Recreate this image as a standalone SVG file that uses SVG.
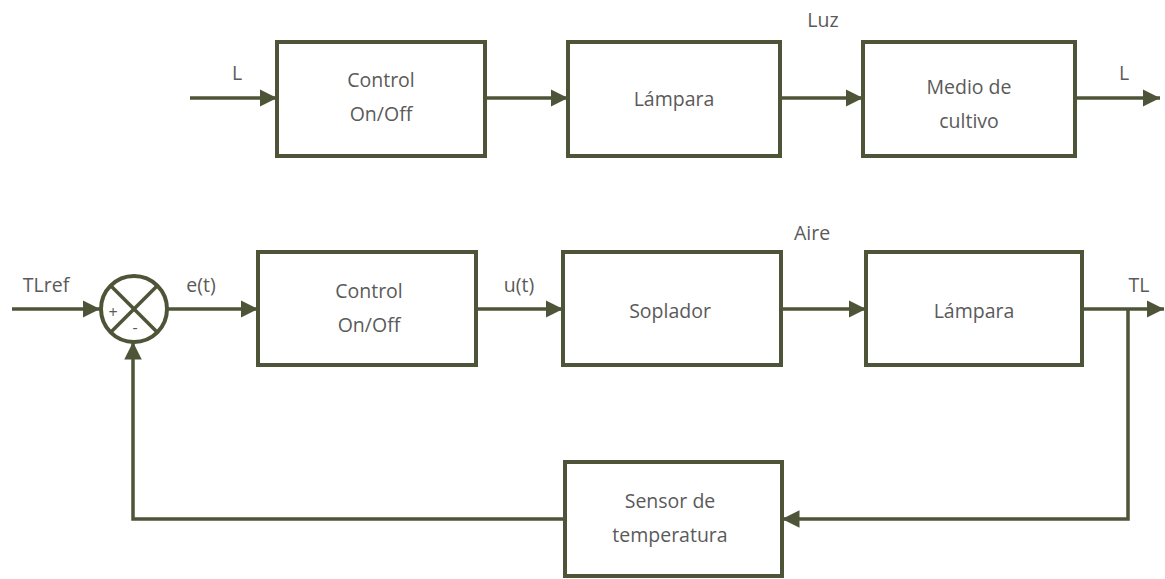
<svg xmlns="http://www.w3.org/2000/svg" width="1165" height="579" viewBox="0 0 1165 579">
<style>
.box{fill:#fff;stroke:#4e5437;stroke-width:4}
.ln{fill:none;stroke:#4e5437;stroke-width:3.5}
.t{font-family:"Open Sans","Liberation Sans",sans-serif;font-size:19.5px;fill:#5a5a5a;text-anchor:middle}
.s{font-family:"Open Sans","Liberation Sans",sans-serif;font-size:16px;fill:#5a5a5a;text-anchor:middle}
</style>
<defs>
<marker id="ah" viewBox="0 0 10 10" refX="10" refY="5" markerWidth="5" markerHeight="5.2" markerUnits="strokeWidth" orient="auto">
<path d="M0,0 L10,5 L0,10 z" fill="#4e5437"/>
</marker>
</defs>
<rect width="1165" height="579" fill="#fff"/>
<g id="connectors">
<line class="ln" x1="190" y1="98" x2="277" y2="98" marker-end="url(#ah)"/>
<line class="ln" x1="485" y1="98" x2="568" y2="98" marker-end="url(#ah)"/>
<line class="ln" x1="780" y1="98" x2="863" y2="98" marker-end="url(#ah)"/>
<line class="ln" x1="1075" y1="98" x2="1160" y2="98" marker-end="url(#ah)"/>
<line class="ln" x1="12" y1="309" x2="100" y2="309" marker-end="url(#ah)"/>
<line class="ln" x1="167" y1="309" x2="258" y2="309" marker-end="url(#ah)"/>
<line class="ln" x1="476" y1="309" x2="563" y2="309" marker-end="url(#ah)"/>
<line class="ln" x1="781" y1="309" x2="866" y2="309" marker-end="url(#ah)"/>
<line class="ln" x1="1082" y1="309" x2="1164" y2="309" marker-end="url(#ah)"/>
<polyline class="ln" points="1128,309 1128,519 782,519" marker-end="url(#ah)"/>
<polyline class="ln" points="565,519 133,519 133,342" marker-end="url(#ah)"/>
<text class="t" x="237" y="80">L</text>
<text class="t" x="823" y="27">Luz</text>
<text class="t" x="1124" y="80">L</text>
<text class="t" x="46" y="292">TLref</text>
<text class="t" x="201" y="292">e(t)</text>
<text class="t" x="519" y="292">u(t)</text>
<text class="t" x="812" y="240">Aire</text>
<text class="t" x="1139" y="292">TL</text>
</g>
<g id="n1"><rect class="box" x="277" y="42" width="208" height="114"/><text class="t" x="381" y="87">Control</text><text class="t" x="381" y="121">On/Off</text></g>
<g id="n2"><rect class="box" x="568" y="42" width="212" height="114"/><text class="t" x="674" y="106">Lámpara</text></g>
<g id="n3"><rect class="box" x="863" y="42" width="212" height="114"/><text class="t" x="969" y="94">Medio de</text><text class="t" x="969" y="128">cultivo</text></g>
<g id="sum">
<circle cx="134" cy="309" r="33" fill="#fff" stroke="#4e5437" stroke-width="4"/>
<line class="ln" x1="111" y1="286" x2="157" y2="332"/>
<line class="ln" x1="157" y1="286" x2="111" y2="332"/>
<text class="s" x="113" y="318">+</text>
<text class="s" x="135" y="333">-</text>
</g>
<g id="n4"><rect class="box" x="258" y="252" width="218" height="113"/><text class="t" x="369" y="298">Control</text><text class="t" x="369" y="332">On/Off</text></g>
<g id="n5"><rect class="box" x="563" y="252" width="218" height="113"/><text class="t" x="670" y="318">Soplador</text></g>
<g id="n6"><rect class="box" x="866" y="252" width="216" height="113"/><text class="t" x="974" y="318">Lámpara</text></g>
<g id="n7"><rect class="box" x="565" y="462" width="217" height="114"/><text class="t" x="670" y="508">Sensor de</text><text class="t" x="670" y="542">temperatura</text></g>
</svg>
